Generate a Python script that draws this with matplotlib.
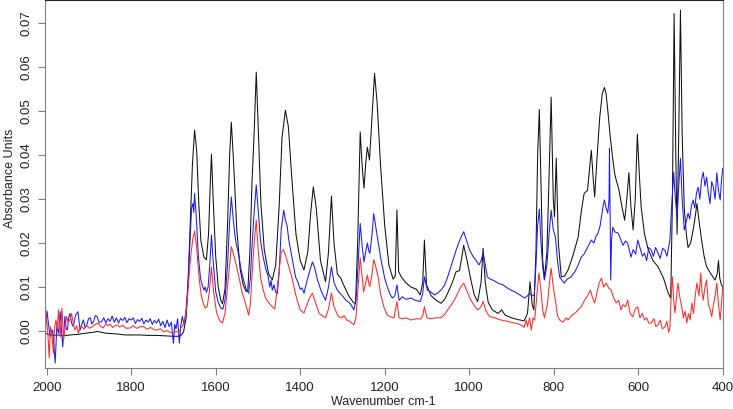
import numpy as np
import matplotlib
matplotlib.use('Agg')
import matplotlib.pyplot as plt

plt.rcParams['font.family'] = ['Liberation Sans', 'DejaVu Sans']

# spectra: (wavenumber cm-1, absorbance)
black = [(2004,-0.0005),(1995,-0.0008),(1985,-0.0010),(1975,-0.0009),(1960,-0.0011),(1945,-0.0009),(1930,-0.0008),(1915,-0.0006),(1900,-0.0004),(1890,-0.0003),(1880,-0.0001),(1870,-0.0003),(1860,-0.0005),(1845,-0.0006),(1830,-0.0007),(1815,-0.0009),(1800,-0.0009),(1780,-0.0009),(1760,-0.0010),(1740,-0.0010),(1720,-0.0011),(1700,-0.0012),(1690,-0.0012),(1683,-0.0011),(1676,-0.0002),(1670,0.0030),(1665,0.0120),(1660,0.0250),(1655,0.0380),(1650,0.0457),(1645,0.0410),(1640,0.0290),(1635,0.0205),(1628,0.0168),(1622,0.0162),(1617,0.0220),(1613,0.0330),(1610,0.0402),(1606,0.0300),(1600,0.0170),(1594,0.0100),(1588,0.0070),(1584,0.0062),(1578,0.0095),(1572,0.0240),(1567,0.0400),(1563,0.0475),(1558,0.0390),(1550,0.0230),(1542,0.0140),(1535,0.0105),(1528,0.0090),(1524,0.0092),(1519,0.0180),(1514,0.0340),(1509,0.0450),(1504,0.0589),(1499,0.0450),(1493,0.0290),(1485,0.0185),(1475,0.0130),(1466,0.0116),(1458,0.0150),(1450,0.0280),(1443,0.0440),(1435,0.0502),(1428,0.0465),(1420,0.0350),(1410,0.0220),(1400,0.0160),(1391,0.0139),(1382,0.0180),(1375,0.0270),(1369,0.0328),(1362,0.0280),(1352,0.0160),(1340,0.0112),(1333,0.0180),(1326,0.0307),(1320,0.0200),(1312,0.0130),(1304,0.0120),(1295,0.0100),(1285,0.0080),(1275,0.0066),(1269,0.0062),(1264,0.0200),(1258,0.0453),(1253,0.0370),(1249,0.0325),(1245,0.0380),(1241,0.0418),(1236,0.0389),(1231,0.0470),(1224,0.0586),(1218,0.0520),(1210,0.0380),(1200,0.0240),(1190,0.0150),(1180,0.0118),(1175,0.0125),(1171,0.0275),(1167,0.0135),(1160,0.0122),(1150,0.0110),(1138,0.0100),(1125,0.0095),(1116,0.0082),(1110,0.0110),(1106,0.0207),(1101,0.0105),(1090,0.0080),(1078,0.0070),(1067,0.0063),(1058,0.0072),(1051,0.0086),(1040,0.0110),(1031,0.0135),(1023,0.0137),(1018,0.0165),(1013,0.0195),(1005,0.0160),(996,0.0116),(988,0.0082),(980,0.0067),(972,0.0110),(967,0.0188),(962,0.0110),(955,0.0065),(945,0.0048),(932,0.0040),(923,0.0048),(915,0.0036),(900,0.0030),(885,0.0026),(870,0.0023),(862,0.0040),(856,0.0112),(851,0.0060),(847,0.0048),(842,0.0180),(838,0.0400),(834,0.0504),(830,0.0330),(826,0.0160),(822,0.0120),(816,0.0180),(811,0.0350),(806,0.0532),(801,0.0300),(798,0.0260),(794,0.0393),(789,0.0200),(782,0.0123),(774,0.0125),(766,0.0139),(755,0.0170),(742,0.0214),(735,0.0270),(728,0.0313),(720,0.0320),(715,0.0370),(711,0.0411),(706,0.0340),(703,0.0305),(697,0.0400),(691,0.0487),(685,0.0540),(680,0.0554),(676,0.0540),(672,0.0502),(666,0.0440),(660,0.0389),(656,0.0360),(652,0.0343),(648,0.0330),(644,0.0313),(638,0.0280),(632,0.0252),(627,0.0300),(622,0.0360),(617,0.0280),(612,0.0230),(607,0.0300),(602,0.0448),(597,0.0350),(593,0.0282),(585,0.0220),(577,0.0188),(565,0.0160),(553,0.0146),(540,0.0120),(529,0.0086),(523,0.0075),(519,0.0300),(515,0.0722),(511,0.0400),(508,0.0220),(504,0.0450),(500,0.0730),(496,0.0450),(491,0.0280),(486,0.0220),(482,0.0190),(476,0.0200),(470,0.0230),(465,0.0260),(461,0.0290),(456,0.0250),(450,0.0207),(444,0.0170),(438,0.0146),(428,0.0130),(418,0.0116),(413,0.0130),(410,0.0160),(407,0.0120),(403,0.0105),(400,0.0100)]

blue = [(2004,-0.0005),(1999,0.0045),(1996,0.0018),(1992,-0.0013),(1986,0.0002),(1983,-0.0030),(1980,-0.0073),(1976,0.0010),(1972,-0.0005),(1968,0.0044),(1965,0.0005),(1962,-0.0036),(1957,0.0033),(1954,0.0005),(1951,0.0002),(1948,0.0030),(1945,0.0040),(1941,0.0018),(1937,0.0010),(1932,0.0035),(1926,0.0044),(1921,0.0002),(1917,0.0015),(1913,0.0025),(1909,0.0008),(1905,0.0014),(1901,0.0028),(1897,0.0030),(1893,0.0016),(1889,0.0022),(1885,0.0035),(1881,0.0033),(1876,0.0020),(1870,0.0021),(1865,0.0030),(1860,0.0018),(1855,0.0028),(1850,0.0022),(1845,0.0034),(1840,0.0020),(1835,0.0030),(1830,0.0018),(1825,0.0029),(1820,0.0024),(1815,0.0031),(1810,0.0019),(1805,0.0028),(1800,0.0025),(1795,0.0030),(1790,0.0017),(1785,0.0026),(1780,0.0022),(1775,0.0029),(1770,0.0016),(1765,0.0025),(1760,0.0020),(1755,0.0028),(1750,0.0015),(1745,0.0024),(1740,0.0018),(1735,0.0027),(1730,0.0012),(1725,0.0022),(1720,0.0008),(1715,0.0025),(1710,0.0010),(1705,0.0020),(1700,-0.0028),(1697,0.0015),(1694,0.0005),(1690,0.0028),(1686,-0.0028),(1683,0.0010),(1679,0.0033),(1675,0.0015),(1671,0.0040),(1666,0.0100),(1661,0.0200),(1657,0.0280),(1654,0.0290),(1652,0.0270),(1650,0.0313),(1646,0.0260),(1641,0.0170),(1636,0.0120),(1632,0.0105),(1628,0.0093),(1625,0.0100),(1622,0.0088),(1618,0.0100),(1614,0.0150),(1610,0.0218),(1606,0.0160),(1600,0.0090),(1594,0.0065),(1588,0.0052),(1583,0.0050),(1578,0.0070),(1572,0.0150),(1567,0.0250),(1563,0.0305),(1559,0.0260),(1555,0.0223),(1552,0.0200),(1548,0.0185),(1545,0.0169),(1540,0.0140),(1534,0.0116),(1528,0.0095),(1522,0.0086),(1518,0.0120),(1514,0.0195),(1509,0.0270),(1504,0.0332),(1499,0.0270),(1494,0.0207),(1488,0.0170),(1482,0.0143),(1476,0.0125),(1472,0.0100),(1469,0.0115),(1466,0.0093),(1462,0.0105),(1458,0.0088),(1454,0.0086),(1450,0.0130),(1445,0.0230),(1439,0.0275),(1435,0.0252),(1431,0.0240),(1427,0.0207),(1420,0.0170),(1411,0.0123),(1405,0.0110),(1400,0.0095),(1396,0.0098),(1391,0.0086),(1385,0.0110),(1378,0.0135),(1371,0.0157),(1366,0.0145),(1359,0.0116),(1350,0.0090),(1340,0.0070),(1333,0.0100),(1326,0.0146),(1320,0.0110),(1312,0.0093),(1305,0.0085),(1298,0.0078),(1292,0.0070),(1285,0.0065),(1280,0.0060),(1273,0.0048),(1268,0.0070),(1263,0.0150),(1258,0.0245),(1253,0.0190),(1249,0.0157),(1245,0.0180),(1241,0.0200),(1237,0.0180),(1235,0.0177),(1230,0.0220),(1226,0.0267),(1220,0.0230),(1210,0.0169),(1200,0.0120),(1194,0.0101),(1188,0.0085),(1182,0.0075),(1176,0.0080),(1171,0.0105),(1166,0.0070),(1158,0.0078),(1150,0.0072),(1138,0.0075),(1128,0.0070),(1116,0.0067),(1110,0.0085),(1106,0.0123),(1099,0.0093),(1090,0.0088),(1082,0.0082),(1075,0.0086),(1065,0.0095),(1058,0.0105),(1051,0.0123),(1042,0.0150),(1031,0.0184),(1025,0.0200),(1019,0.0214),(1013,0.0226),(1006,0.0205),(999,0.0184),(991,0.0170),(984,0.0161),(977,0.0150),(972,0.0160),(967,0.0177),(962,0.0150),(957,0.0123),(950,0.0118),(942,0.0115),(932,0.0109),(920,0.0105),(910,0.0098),(901,0.0093),(890,0.0088),(880,0.0082),(869,0.0075),(862,0.0080),(857,0.0086),(851,0.0080),(846,0.0082),(842,0.0150),(838,0.0240),(834,0.0277),(830,0.0200),(826,0.0146),(822,0.0116),(816,0.0150),(811,0.0220),(806,0.0275),(801,0.0230),(796,0.0214),(791,0.0160),(786,0.0123),(780,0.0115),(775,0.0109),(768,0.0118),(759,0.0123),(750,0.0135),(742,0.0150),(735,0.0168),(728,0.0175),(720,0.0190),(711,0.0207),(705,0.0200),(700,0.0215),(695,0.0223),(690,0.0240),(687,0.0260),(683,0.0285),(680,0.0298),(676,0.0280),(672,0.0268),(669,0.0300),(668,0.0416),(666,0.0200),(665,0.0116),(663,0.0210),(660,0.0236),(655,0.0225),(648,0.0223),(644,0.0215),(641,0.0207),(636,0.0195),(630,0.0205),(625,0.0200),(620,0.0180),(617,0.0168),(612,0.0185),(606,0.0175),(601,0.0207),(596,0.0190),(590,0.0170),(585,0.0177),(580,0.0160),(575,0.0190),(569,0.0184),(564,0.0170),(559,0.0190),(553,0.0177),(548,0.0165),(542,0.0188),(537,0.0184),(532,0.0170),(528,0.0190),(525,0.0207),(521,0.0280),(516,0.0361),(512,0.0300),(508,0.0260),(504,0.0330),(500,0.0393),(496,0.0300),(491,0.0230),(486,0.0250),(482,0.0268),(478,0.0255),(474,0.0285),(470,0.0298),(466,0.0280),(462,0.0315),(458,0.0327),(454,0.0300),(450,0.0345),(446,0.0361),(442,0.0330),(438,0.0350),(434,0.0313),(430,0.0290),(426,0.0340),(422,0.0327),(418,0.0300),(414,0.0360),(410,0.0320),(406,0.0298),(403,0.0340),(400,0.0370)]

red = [(2004,0.0067),(2000,0.0025),(1997,-0.0010),(1994,-0.0061),(1991,0.0010),(1988,-0.0005),(1984,-0.0050),(1981,0.0010),(1978,0.0025),(1975,0.0005),(1972,0.0048),(1968,-0.0014),(1964,0.0052),(1960,-0.0020),(1956,0.0010),(1953,0.0033),(1949,0.0020),(1945,0.0025),(1941,0.0040),(1937,0.0015),(1933,0.0002),(1929,0.0012),(1925,-0.0005),(1921,0.0008),(1917,0.0010),(1912,0.0004),(1905,0.0012),(1898,0.0006),(1889,0.0012),(1883,0.0016),(1878,0.0018),(1872,0.0010),(1866,0.0007),(1860,0.0016),(1855,0.0012),(1850,0.0016),(1844,0.0008),(1838,0.0012),(1834,0.0014),(1828,0.0009),(1820,0.0013),(1812,0.0006),(1802,0.0007),(1795,0.0012),(1787,0.0006),(1778,0.0010),(1771,0.0010),(1762,0.0004),(1754,0.0008),(1746,0.0003),(1739,0.0002),(1731,0.0005),(1723,-0.0002),(1715,0.0001),(1708,-0.0003),(1700,-0.0005),(1694,-0.0001),(1688,-0.0003),(1680,0.0010),(1676,0.0015),(1672,0.0030),(1668,0.0060),(1665,0.0100),(1661,0.0150),(1658,0.0180),(1654,0.0210),(1650,0.0227),(1645,0.0190),(1641,0.0140),(1638,0.0110),(1634,0.0080),(1630,0.0065),(1625,0.0052),(1620,0.0056),(1615,0.0090),(1610,0.0145),(1605,0.0090),(1598,0.0042),(1590,0.0023),(1584,0.0018),(1578,0.0040),(1570,0.0120),(1563,0.0192),(1555,0.0165),(1545,0.0123),(1538,0.0090),(1530,0.0064),(1522,0.0036),(1518,0.0060),(1514,0.0127),(1509,0.0200),(1504,0.0252),(1499,0.0180),(1494,0.0123),(1488,0.0095),(1482,0.0075),(1475,0.0065),(1466,0.0055),(1460,0.0050),(1454,0.0100),(1445,0.0180),(1440,0.0185),(1435,0.0173),(1428,0.0150),(1420,0.0123),(1410,0.0080),(1400,0.0048),(1391,0.0041),(1384,0.0060),(1378,0.0075),(1371,0.0086),(1364,0.0065),(1355,0.0040),(1348,0.0035),(1340,0.0030),(1333,0.0050),(1326,0.0086),(1320,0.0055),(1310,0.0033),(1302,0.0030),(1296,0.0035),(1290,0.0025),(1283,0.0022),(1278,0.0018),(1273,0.0014),(1268,0.0030),(1263,0.0100),(1258,0.0166),(1253,0.0120),(1250,0.0089),(1245,0.0110),(1241,0.0127),(1237,0.0105),(1235,0.0101),(1230,0.0130),(1226,0.0162),(1222,0.0150),(1215,0.0120),(1210,0.0086),(1202,0.0055),(1194,0.0036),(1186,0.0032),(1178,0.0030),(1171,0.0067),(1166,0.0030),(1158,0.0028),(1150,0.0030),(1138,0.0025),(1125,0.0028),(1115,0.0027),(1110,0.0035),(1106,0.0055),(1100,0.0030),(1090,0.0028),(1080,0.0030),(1067,0.0030),(1058,0.0038),(1051,0.0048),(1042,0.0060),(1031,0.0078),(1020,0.0100),(1013,0.0109),(1005,0.0090),(996,0.0070),(988,0.0058),(980,0.0048),(972,0.0055),(967,0.0067),(960,0.0045),(952,0.0033),(940,0.0030),(925,0.0025),(910,0.0022),(893,0.0018),(880,0.0015),(870,0.0008),(865,0.0025),(862,0.0010),(857,0.0030),(853,0.0002),(849,0.0030),(845,0.0025),(840,0.0080),(835,0.0132),(830,0.0090),(826,0.0048),(822,0.0030),(815,0.0060),(810,0.0110),(806,0.0143),(801,0.0100),(796,0.0070),(791,0.0035),(786,0.0025),(778,0.0020),(770,0.0030),(766,0.0025),(758,0.0035),(750,0.0040),(742,0.0048),(735,0.0055),(727,0.0070),(720,0.0080),(713,0.0093),(708,0.0075),(703,0.0064),(697,0.0090),(692,0.0110),(687,0.0120),(682,0.0100),(676,0.0109),(670,0.0098),(664,0.0093),(658,0.0075),(652,0.0064),(646,0.0070),(641,0.0048),(636,0.0060),(630,0.0055),(625,0.0070),(619,0.0040),(613,0.0032),(607,0.0050),(601,0.0055),(596,0.0030),(590,0.0040),(585,0.0025),(580,0.0030),(575,0.0018),(569,0.0018),(563,0.0028),(558,0.0010),(553,0.0014),(548,0.0025),(543,0.0005),(537,0.0009),(532,0.0022),(528,-0.0003),(525,0.0007),(522,0.0080),(519,0.0123),(516,0.0070),(513,0.0041),(509,0.0080),(506,0.0109),(502,0.0080),(497,0.0055),(493,0.0030),(489,0.0045),(485,0.0018),(481,0.0040),(477,0.0025),(473,0.0064),(469,0.0040),(465,0.0080),(461,0.0109),(456,0.0080),(452,0.0132),(449,0.0090),(446,0.0070),(442,0.0100),(438,0.0116),(434,0.0060),(430,0.0050),(426,0.0032),(422,0.0060),(418,0.0080),(414,0.0109),(410,0.0060),(406,0.0025),(403,0.0060),(400,0.0100)]

x_ticks = [2000, 1800, 1600, 1400, 1200, 1000, 800, 600, 400]
y_ticks = [0.00, 0.01, 0.02, 0.03, 0.04, 0.05, 0.06, 0.07]

fig = plt.figure(figsize=(7.33, 4.09), dpi=100)
ax = fig.add_axes([45/733, 41.3/409, 677.7/733, 367.7/409])

for data, col in [(black, '#111111'), (blue, '#1a1aff'), (red, '#ff2a2a')]:
    arr = np.array(data)
    ax.plot(arr[:, 0], arr[:, 1], color=col, lw=0.75)

ax.set_xlim(2004, 400)
ax.set_ylim(-0.00835, 0.0753)
ax.set_xticks(x_ticks)
ax.set_yticks(y_ticks)
ax.set_yticklabels(['%.2f' % v for v in y_ticks], rotation=90, va='center')

for s in ['left', 'bottom', 'right']:
    ax.spines[s].set_color('#808080')
ax.spines['top'].set_color('#222222')
ax.tick_params(axis='both', colors='#808080', labelcolor='#222222', labelsize=9.5, length=5)
ax.tick_params(axis='x', pad=5)
ax.tick_params(axis='y', pad=4)

# axis titles placed in figure pixels, as in the reference
fig.text(383/733, 1 - 402/409, 'Wavenumber cm-1', fontsize=9, color='#222222',
         ha='center', va='center')
fig.text(10/733, 1 - 178/409, 'Absorbance Units', fontsize=9, color='#222222',
         ha='center', va='center', rotation=90)

fig.savefig('out.png', dpi=100)
